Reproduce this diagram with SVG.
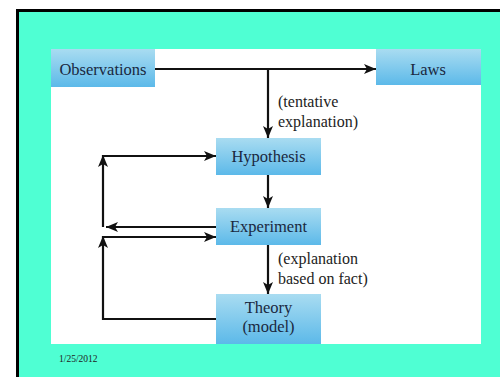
<svg xmlns="http://www.w3.org/2000/svg" width="500" height="377" viewBox="0 0 500 377">
<defs>
<linearGradient id="bx" x1="0" y1="0" x2="0" y2="1">
<stop offset="0" stop-color="#a9dcf1"/>
<stop offset="1" stop-color="#5cb9e9"/>
</linearGradient>
<marker id="ah" viewBox="0 0 12 10" refX="12" refY="5" markerWidth="12" markerHeight="10" markerUnits="userSpaceOnUse" orient="auto">
<path d="M0,0 L12,5 L0,10 L3,5 z" fill="#111"/>
</marker>
<style>
.box{fill:url(#bx);}
.lbl{font-size:16.5px;fill:#1a2840;text-anchor:middle;}
.note{font-size:16px;fill:#222;}
.ln{fill:none;stroke:#111;stroke-width:2.2;}
</style>
</defs>
<rect x="0" y="0" width="500" height="377" fill="#fff"/>
<rect x="17.5" y="10.5" width="490" height="380" fill="#4fffd3" stroke="#000" stroke-width="3"/>
<rect x="51" y="49" width="430" height="295" fill="#fff"/>

<g id="connectors">
<path class="ln" d="M155,69 H376" marker-end="url(#ah)"/>
<path class="ln" d="M268,69 V138" marker-end="url(#ah)"/>
<path class="ln" d="M268,175 V208" marker-end="url(#ah)"/>
<path class="ln" d="M268,245 V294" marker-end="url(#ah)"/>
<path class="ln" d="M216,227 H106" marker-end="url(#ah)"/>
<path class="ln" d="M103,227 V155" marker-end="url(#ah)"/>
<path class="ln" d="M102,156 H216" marker-end="url(#ah)"/>
<path class="ln" d="M216,319 H103 V236" marker-end="url(#ah)"/>
<path class="ln" d="M102,237 H216" marker-end="url(#ah)"/>
</g>

<g font-family="Liberation Serif, Times New Roman, serif">
<g id="observations">
<rect class="box" x="51" y="49" width="104" height="38"/>
<text class="lbl" x="103" y="75">Observations</text>
</g>
<g id="laws">
<rect class="box" x="376" y="49" width="105" height="36"/>
<text class="lbl" x="428" y="75">Laws</text>
</g>
<g id="hypothesis">
<rect class="box" x="216" y="138" width="105" height="37"/>
<text class="lbl" x="268.5" y="162">Hypothesis</text>
</g>
<g id="experiment">
<rect class="box" x="216" y="208" width="105" height="37"/>
<text class="lbl" x="268.5" y="232">Experiment</text>
</g>
<g id="theory">
<rect class="box" x="216" y="294" width="105" height="50"/>
<text class="lbl" x="268.5" y="313">Theory</text>
<text class="lbl" x="268.5" y="332">(model)</text>
</g>

<text class="note" x="278" y="107">(tentative</text>
<text class="note" x="278" y="127">explanation)</text>
<text class="note" x="278" y="264">(explanation</text>
<text class="note" x="278" y="284">based on fact)</text>
<text x="59" y="362" font-size="9.5" fill="#222">1/25/2012</text>
</g>
</svg>
